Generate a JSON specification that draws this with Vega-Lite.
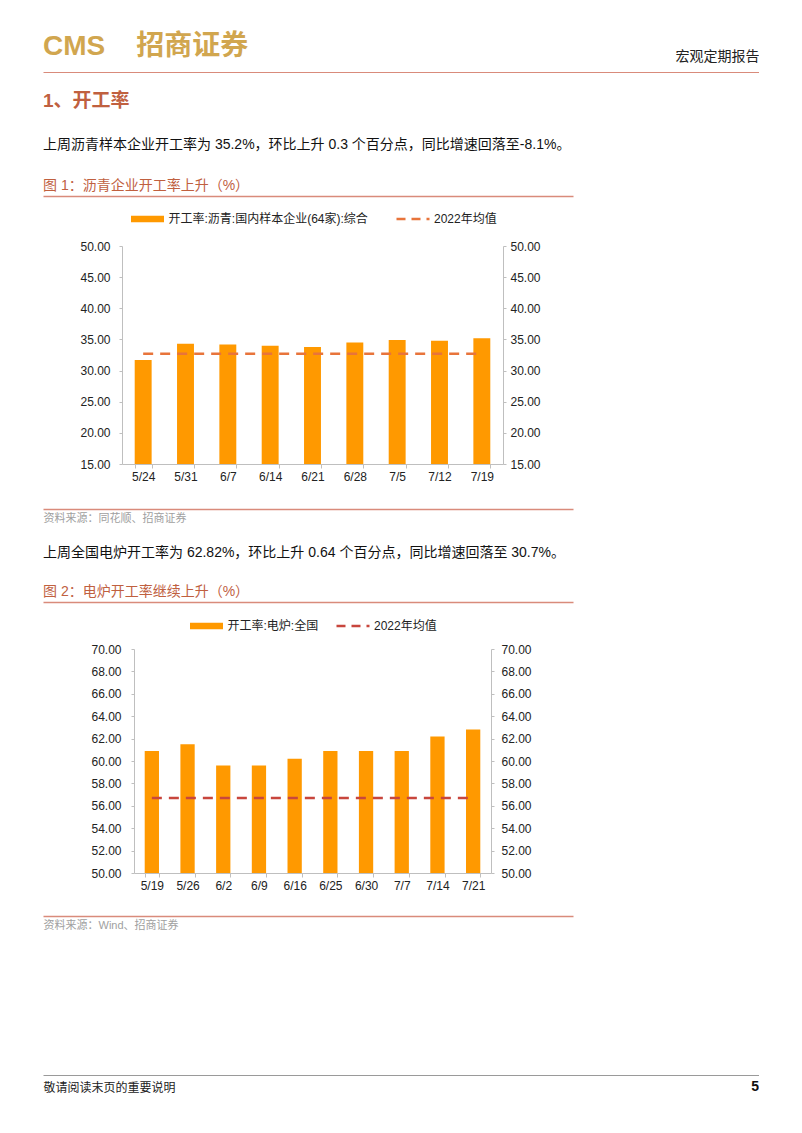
{
  "$schema": "https://vega.github.io/schema/vega-lite/v6.json",
  "background": "white",
  "padding": {"left": 43, "top": 33, "right": 0, "bottom": 0},
  "spacing": 0,
  "resolve": {"scale": {"color": "independent"}, "legend": {"color": "independent"}},
  "config": {
    "view": {"stroke": null},
    "font": "Liberation Sans, Noto Sans CJK SC",
    "title": {"font": "Liberation Sans, Noto Sans CJK SC", "subtitleFont": "Liberation Sans, Noto Sans CJK SC", "anchor": "start", "frame": "group"},
    "axis": {"labelFont": "Liberation Sans, Noto Sans CJK SC", "titleFont": "Liberation Sans, Noto Sans CJK SC"},
    "legend": {"labelFont": "Liberation Sans, Noto Sans CJK SC"}
  },
  "datasets": {
    "dummy": [{"v": 0}, {"v": 1}],
    "c1": [
      {"date": "5/24", "value": 31.7, "mean": 32.7},
      {"date": "5/31", "value": 34.3, "mean": 32.7},
      {"date": "6/7", "value": 34.2, "mean": 32.7},
      {"date": "6/14", "value": 34.0, "mean": 32.7},
      {"date": "6/21", "value": 33.8, "mean": 32.7},
      {"date": "6/28", "value": 34.5, "mean": 32.7},
      {"date": "7/5", "value": 34.9, "mean": 32.7},
      {"date": "7/12", "value": 34.8, "mean": 32.7},
      {"date": "7/19", "value": 35.2, "mean": 32.7}
    ],
    "c2": [
      {"date": "5/19", "value": 60.9, "mean": 56.7},
      {"date": "5/26", "value": 61.5, "mean": 56.7},
      {"date": "6/2", "value": 59.6, "mean": 56.7},
      {"date": "6/9", "value": 59.6, "mean": 56.7},
      {"date": "6/16", "value": 60.2, "mean": 56.7},
      {"date": "6/25", "value": 60.9, "mean": 56.7},
      {"date": "6/30", "value": 60.9, "mean": 56.7},
      {"date": "7/7", "value": 60.9, "mean": 56.7},
      {"date": "7/14", "value": 62.18, "mean": 56.7},
      {"date": "7/21", "value": 62.82, "mean": 56.7}
    ]
  },
  "vconcat": [
    {
      "width": 716, "height": 20,
      "data": {"name": "dummy"},
      "mark": {"type": "rule", "opacity": 0},
      "encoding": {"x": {"field": "v", "type": "quantitative", "axis": {"orient": "top", "domainColor": "#d98b7b", "domainWidth": 1, "ticks": false, "labels": false, "grid": false, "title": "宏观定期报告", "titleAnchor": "end", "titleFontSize": 14, "titleFontWeight": "normal", "titleColor": "#222222", "titlePadding": 9}}},
      "title": {"text": "CMS\u00a0\u00a0\u00a0\u00a0招商证券", "fontSize": 28, "color": "#d1a64f", "fontWeight": "bold", "offset": 0, "dy": 12}
    },
    {
      "width": 716, "height": 27,
      "data": {"name": "dummy"},
      "mark": {"type": "rule", "opacity": 0},
      "encoding": {"x": {"field": "v", "type": "quantitative", "axis": null}},
      "title": {"text": "1、开工率", "subtitle": "上周沥青样本企业开工率为 35.2%，环比上升 0.3 个百分点，同比增速回落至-8.1%。", "fontSize": 19, "fontWeight": "bold", "color": "#c0603f", "subtitleFontSize": 14, "subtitleColor": "#111111", "subtitlePadding": 27, "offset": 0}
    },
    {
      "spacing": 0,
      "resolve": {"scale": {"color": "independent"}, "legend": {"color": "independent"}},
      "vconcat": [
        {
          "width": 530, "height": 17,
          "data": {"name": "dummy"},
          "mark": {"type": "rule", "opacity": 0},
          "encoding": {"x": {"field": "v", "type": "quantitative", "axis": {"orient": "top", "domainColor": "#d98b7b", "domainWidth": 1.5, "ticks": false, "labels": false, "grid": false, "title": null}}},
          "title": {"text": "图 1：沥青企业开工率上升（%）", "fontSize": 14, "fontWeight": "normal", "color": "#c0603f", "offset": 3}
        },
        {
          "spacing": 0,
          "resolve": {"scale": {"color": "independent"}, "legend": {"color": "independent"}},
          "hconcat": [
            {
              "width": 36, "height": 1,
              "data": {"name": "dummy"},
              "mark": {"type": "rule", "opacity": 0},
              "encoding": {"x": {"field": "v", "type": "quantitative", "axis": null}}
            },
            {
              "width": 381, "height": 218,
              "data": {"name": "c1"},
              "encoding": {
                "x": {"field": "date", "type": "nominal", "sort": null, "scale": {"paddingInner": 0.6, "paddingOuter": 0.3},
                  "axis": {"title": null, "labelAngle": 0, "domainColor": "#bfbfbf", "tickColor": "#bfbfbf", "tickBand": "extent", "tickSize": 4, "labelPadding": 3, "labelFontSize": 12, "labelColor": "#222222", "grid": false}}
              },
              "layer": [
                {
                  "mark": {"type": "bar", "clip": true},
                  "encoding": {
                    "y": {"field": "value", "type": "quantitative", "scale": {"domain": [15, 50], "zero": false, "nice": false},
                      "axis": {"orient": "left", "title": null, "values": [15, 20, 25, 30, 35, 40, 45, 50], "format": ".2f", "domainColor": "#bfbfbf", "tickColor": "#bfbfbf", "tickSize": 3, "labelPadding": 9, "labelFontSize": 12, "labelColor": "#222222", "grid": false}},
                    "color": {"datum": "开工率:沥青:国内样本企业(64家):综合", "type": "nominal",
                      "scale": {"domain": ["开工率:沥青:国内样本企业(64家):综合", "2022年均值"], "range": ["#FF9900", "#E8743B"]},
                      "legend": {"orient": "none", "legendX": 19.5, "legendY": -33, "direction": "horizontal", "title": null, "symbolSize": 1089, "labelFontSize": 12, "labelColor": "#222222", "columnPadding": 22.5, "labelOffset": 15, "padding": 0, "labelLimit": 400,
                        "encode": {"symbols": {"update": {
                          "shape": {"signal": "datum.value === '2022年均值' ? 'M-1,0L1,0' : 'M-1,-0.19L1,-0.19L1,0.19L-1,0.19Z'"},
                          "size": {"value": 1089},
                          "fill": {"signal": "datum.value === '2022年均值' ? 'transparent' : '#FF9900'"},
                          "stroke": {"signal": "datum.value === '2022年均值' ? '#E8743B' : 'transparent'"},
                          "strokeDash": {"signal": "datum.value === '2022年均值' ? [9, 6] : [1, 0]"},
                          "strokeWidth": {"signal": "datum.value === '2022年均值' ? 2.5 : 0"},
                          "opacity": {"value": 1}
                        }}}}
                    }
                  }
                },
                {
                  "mark": {"type": "line", "strokeDash": [10, 7], "strokeWidth": 2.5},
                  "encoding": {
                    "y": {"field": "mean", "type": "quantitative", "scale": {"domain": [15, 50], "zero": false, "nice": false},
                      "axis": {"orient": "right", "title": null, "values": [15, 20, 25, 30, 35, 40, 45, 50], "format": ".2f", "domainColor": "#bfbfbf", "tickColor": "#bfbfbf", "tickSize": 3, "labelPadding": 4, "labelFontSize": 12, "labelColor": "#222222", "grid": false}},
                    "color": {"datum": "2022年均值", "type": "nominal"}
                  }
                }
              ],
              "resolve": {"axis": {"y": "independent"}}
            }
          ]
        },
        {
          "width": 530, "height": 27,
          "data": {"name": "dummy"},
          "mark": {"type": "rule", "opacity": 0},
          "encoding": {"x": {"field": "v", "type": "quantitative", "axis": {"orient": "bottom", "domainColor": "#d98b7b", "domainWidth": 1.5, "ticks": false, "labels": false, "grid": false, "title": "资料来源：同花顺、招商证券", "titleAnchor": "start", "titleFontSize": 11, "titleFontWeight": "normal", "titleColor": "#a0a0a0", "titlePadding": 3}}}
        }
      ]
    },
    {
      "width": 716, "height": 25,
      "data": {"name": "dummy"},
      "mark": {"type": "rule", "opacity": 0},
      "encoding": {"x": {"field": "v", "type": "quantitative", "axis": null}},
      "title": {"text": " ", "subtitle": "上周全国电炉开工率为 62.82%，环比上升 0.64 个百分点，同比增速回落至 30.7%。", "fontSize": 1, "fontWeight": "normal", "color": "#ffffff", "subtitleFontSize": 14, "subtitleColor": "#111111", "subtitlePadding": 22, "offset": 0}
    },
    {
      "spacing": 0,
      "resolve": {"scale": {"color": "independent"}, "legend": {"color": "independent"}},
      "vconcat": [
        {
          "width": 530, "height": 18,
          "data": {"name": "dummy"},
          "mark": {"type": "rule", "opacity": 0},
          "encoding": {"x": {"field": "v", "type": "quantitative", "axis": {"orient": "top", "domainColor": "#d98b7b", "domainWidth": 1.5, "ticks": false, "labels": false, "grid": false, "title": null}}},
          "title": {"text": "图 2：电炉开工率继续上升（%）", "fontSize": 14, "fontWeight": "normal", "color": "#c0603f", "offset": 3}
        },
        {
          "spacing": 0,
          "resolve": {"scale": {"color": "independent"}, "legend": {"color": "independent"}},
          "hconcat": [
            {
              "width": 47, "height": 1,
              "data": {"name": "dummy"},
              "mark": {"type": "rule", "opacity": 0},
              "encoding": {"x": {"field": "v", "type": "quantitative", "axis": null}}
            },
            {
              "width": 357, "height": 224,
              "data": {"name": "c2"},
              "encoding": {
                "x": {"field": "date", "type": "nominal", "sort": null, "scale": {"paddingInner": 0.6, "paddingOuter": 0.3},
                  "axis": {"title": null, "labelAngle": 0, "domainColor": "#bfbfbf", "tickColor": "#bfbfbf", "tickBand": "extent", "tickSize": 4, "labelPadding": 3, "labelFontSize": 12, "labelColor": "#222222", "grid": false}}
              },
              "layer": [
                {
                  "mark": {"type": "bar", "clip": true},
                  "encoding": {
                    "y": {"field": "value", "type": "quantitative", "scale": {"domain": [50, 70], "zero": false, "nice": false},
                      "axis": {"orient": "left", "title": null, "values": [50, 52, 54, 56, 58, 60, 62, 64, 66, 68, 70], "format": ".2f", "domainColor": "#bfbfbf", "tickColor": "#bfbfbf", "tickSize": 3, "labelPadding": 10, "labelFontSize": 12, "labelColor": "#222222", "grid": false}},
                    "color": {"datum": "开工率:电炉:全国", "type": "nominal",
                      "scale": {"domain": ["开工率:电炉:全国", "2022年均值"], "range": ["#FF9900", "#C8463D"]},
                      "legend": {"orient": "none", "legendX": 66.5, "legendY": -29, "direction": "horizontal", "title": null, "symbolSize": 1089, "labelFontSize": 12, "labelColor": "#222222", "columnPadding": 12.5, "labelOffset": 15, "padding": 0, "labelLimit": 400,
                        "encode": {"symbols": {"update": {
                          "shape": {"signal": "datum.value === '2022年均值' ? 'M-1,0L1,0' : 'M-1,-0.19L1,-0.19L1,0.19L-1,0.19Z'"},
                          "size": {"value": 1089},
                          "fill": {"signal": "datum.value === '2022年均值' ? 'transparent' : '#FF9900'"},
                          "stroke": {"signal": "datum.value === '2022年均值' ? '#C8463D' : 'transparent'"},
                          "strokeDash": {"signal": "datum.value === '2022年均值' ? [9, 6] : [1, 0]"},
                          "strokeWidth": {"signal": "datum.value === '2022年均值' ? 2.5 : 0"},
                          "opacity": {"value": 1}
                        }}}}
                    }
                  }
                },
                {
                  "mark": {"type": "line", "strokeDash": [10, 7], "strokeWidth": 2.5},
                  "encoding": {
                    "y": {"field": "mean", "type": "quantitative", "scale": {"domain": [50, 70], "zero": false, "nice": false},
                      "axis": {"orient": "right", "title": null, "values": [50, 52, 54, 56, 58, 60, 62, 64, 66, 68, 70], "format": ".2f", "domainColor": "#bfbfbf", "tickColor": "#bfbfbf", "tickSize": 3, "labelPadding": 7, "labelFontSize": 12, "labelColor": "#222222", "grid": false}},
                    "color": {"datum": "2022年均值", "type": "nominal"}
                  }
                }
              ],
              "resolve": {"axis": {"y": "independent"}}
            }
          ]
        },
        {
          "width": 530, "height": 25,
          "data": {"name": "dummy"},
          "mark": {"type": "rule", "opacity": 0},
          "encoding": {"x": {"field": "v", "type": "quantitative", "axis": {"orient": "bottom", "domainColor": "#d98b7b", "domainWidth": 1.5, "ticks": false, "labels": false, "grid": false, "title": "资料来源：Wind、招商证券", "titleAnchor": "start", "titleFontSize": 11, "titleFontWeight": "normal", "titleColor": "#a0a0a0", "titlePadding": 3}}}
        }
      ]
    },
    {
      "width": 716, "height": 145,
      "data": {"name": "dummy"},
      "mark": {"type": "rule", "opacity": 0},
      "encoding": {"x": {"field": "v", "type": "quantitative", "axis": {"orient": "bottom", "domainColor": "#9a9a9a", "domainWidth": 1, "ticks": false, "labels": false, "grid": false, "title": "敬请阅读末页的重要说明", "titleAnchor": "start", "titleFontSize": 12, "titleFontWeight": "normal", "titleColor": "#222222", "titlePadding": 7}}},
      "title": {"text": "5", "orient": "bottom", "anchor": "end", "fontSize": 14, "fontWeight": "bold", "color": "#111111", "offset": 0, "dy": -13}
    }
  ]
}
